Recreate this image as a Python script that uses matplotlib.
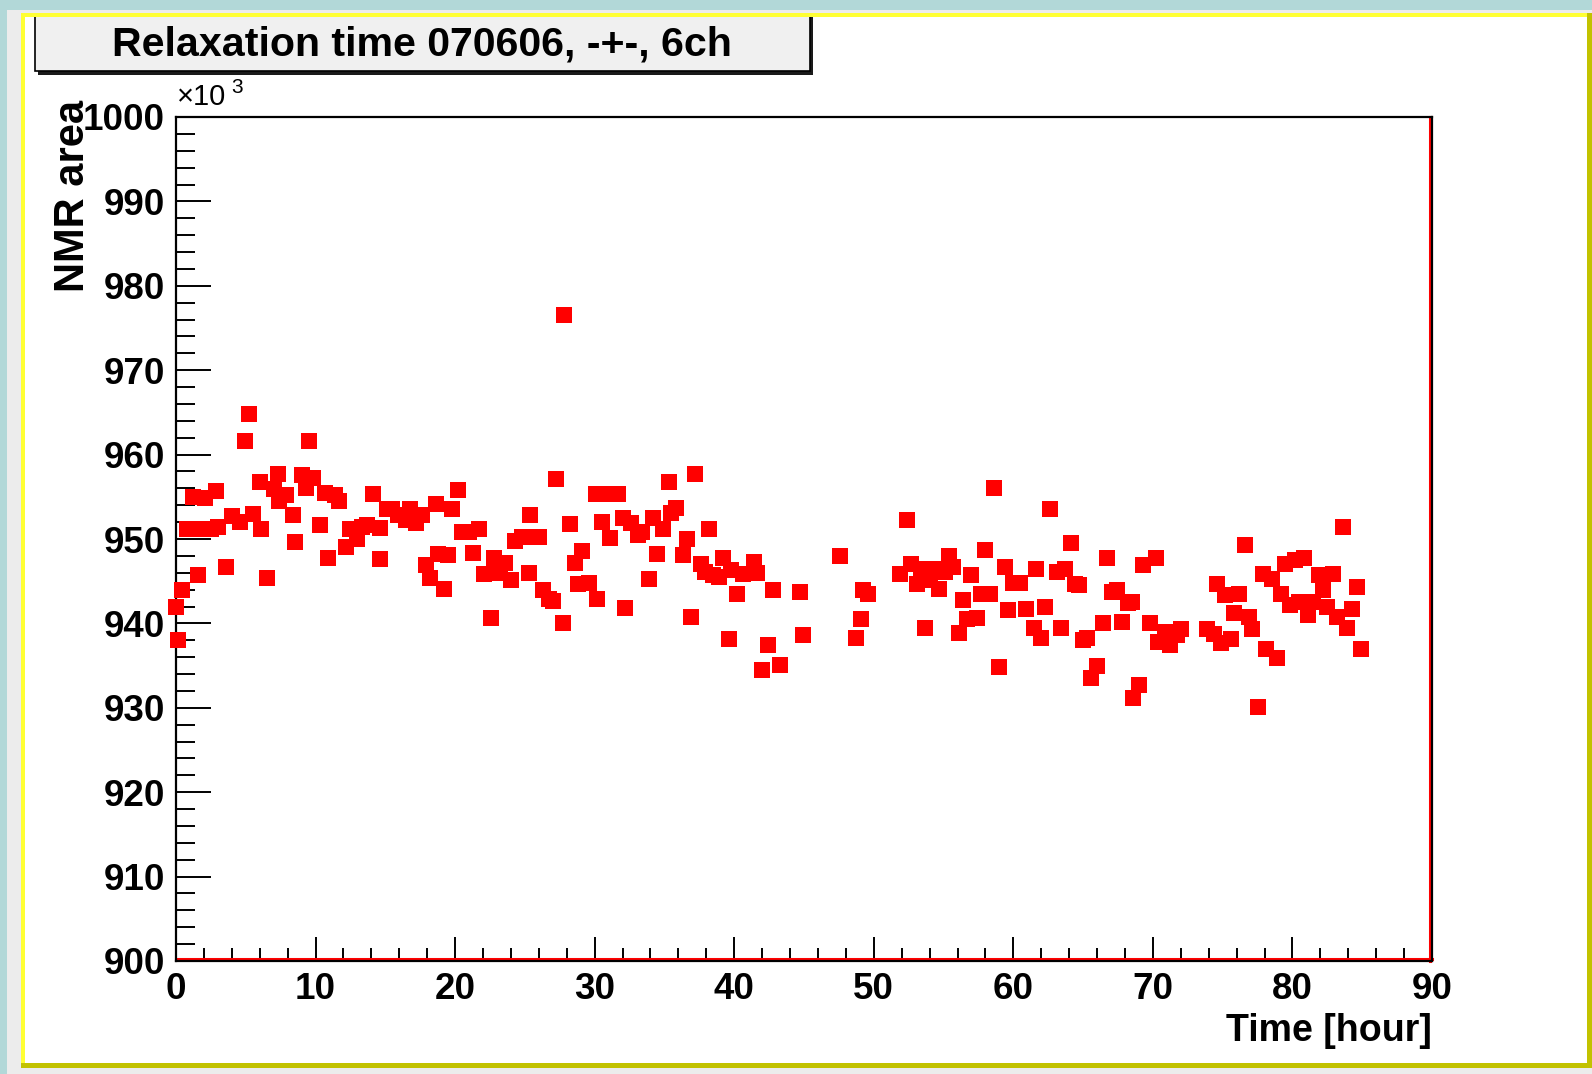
import numpy as np
import matplotlib
matplotlib.use("Agg")
import matplotlib.pyplot as plt
from matplotlib.patches import Rectangle
from matplotlib.lines import Line2D
from matplotlib.ticker import MultipleLocator
import matplotlib.transforms as mtransforms

# values (NMR area in units of 10^3)
time_hour = [0.0, 0.15, 0.4, 0.8, 1.2, 1.6, 1.7, 2.1, 2.5, 2.9, 3.0, 3.6, 4.0, 4.6, 4.95,
             5.2, 5.5, 6.0, 6.1, 6.5, 7.0, 7.3, 7.4, 7.9, 8.4, 8.5, 9.0, 9.3, 9.5, 9.8,
             10.3, 10.7, 10.9, 11.4, 11.7, 12.2, 12.5, 13.0, 13.3, 13.7, 14.1, 14.6, 14.6,
             15.1, 15.5, 15.9, 16.5, 16.8, 17.2, 17.6, 17.9, 18.2, 18.6, 18.8, 19.2, 19.5,
             19.8, 20.2, 20.5, 21.0, 21.3, 21.7, 22.1, 22.6, 22.8, 23.2, 23.6, 24.0, 24.3,
             24.8, 25.3, 25.4, 25.6, 26.0, 26.3, 26.7, 27.0, 27.2, 27.7, 27.8, 28.2, 28.6,
             28.8, 29.1, 29.6, 30.1, 30.2, 30.5, 30.9, 31.1, 31.7, 32.0, 32.2, 32.6, 33.1,
             33.4, 33.9, 34.2, 34.5, 34.9, 35.3, 35.5, 35.8, 36.3, 36.6, 36.9, 37.2, 37.6,
             37.9, 38.2, 38.5, 38.9, 39.2, 39.6, 39.8, 40.2, 40.6, 41.4, 41.6, 42.0, 42.4,
             42.8, 43.3, 44.7, 44.9, 47.6, 48.7, 49.1, 49.2, 49.6, 51.9, 52.4, 52.7, 53.1,
             53.4, 53.7, 54.0, 54.3, 54.7, 55.1, 55.4, 55.7, 56.1, 56.4, 56.7, 57.0, 57.4,
             57.7, 58.0, 58.3, 58.6, 59.0, 59.4, 59.6, 60.0, 60.5, 60.9, 61.5, 61.6, 62.0,
             62.3, 62.6, 63.1, 63.4, 63.7, 64.1, 64.4, 64.7, 65.0, 65.3, 65.6, 66.0, 66.4,
             66.7, 67.1, 67.4, 67.8, 68.2, 68.5, 68.6, 69.0, 69.3, 69.8, 70.2, 70.4, 70.9,
             71.2, 71.7, 72.0, 73.9, 74.4, 74.6, 74.9, 75.2, 75.6, 75.8, 76.2, 76.6, 76.9,
             77.1, 77.5, 77.9, 78.1, 78.5, 78.9, 79.2, 79.5, 79.8, 80.2, 80.5, 80.8, 81.1,
             81.5, 81.9, 82.2, 82.5, 82.9, 83.2, 83.6, 83.9, 84.3, 84.6, 84.9]
nmr_area_k = [941.9, 938.0, 944.0, 951.2, 955.0, 945.7, 951.2, 954.8, 951.2, 955.7, 951.4,
              946.7, 952.7, 952.0, 961.6, 964.8, 953.0, 956.7, 951.2, 945.4, 955.9, 957.7,
              954.5, 955.2, 952.8, 949.6, 957.6, 956.1, 961.6, 957.2, 951.7, 955.5, 947.7,
              955.2, 954.5, 949.0, 951.2, 950.0, 951.4, 951.7, 955.3, 947.6, 951.3, 953.6,
              953.6, 952.8, 952.2, 953.6, 951.9, 952.9, 946.9, 945.4, 954.2, 948.2, 944.1,
              948.1, 953.6, 955.8, 950.8, 950.8, 948.3, 951.2, 945.9, 940.6, 947.7, 946.0,
              947.1, 945.1, 949.8, 950.2, 946.0, 952.9, 950.2, 950.2, 943.9, 942.9, 942.7,
              957.1, 940.0, 976.5, 951.8, 947.2, 944.7, 948.6, 944.8, 955.3, 942.9, 952.0,
              955.3, 950.1, 955.3, 952.5, 941.8, 951.9, 950.5, 950.8, 945.3, 952.5, 948.2,
              951.2, 956.7, 953.1, 953.7, 948.1, 950.0, 940.8, 957.7, 947.0, 946.1, 951.2,
              945.7, 945.5, 947.7, 938.2, 946.3, 943.5, 945.9, 947.3, 946.0, 934.5, 937.5,
              943.9, 935.1, 943.7, 938.6, 948.0, 938.3, 940.5, 943.9, 943.5, 945.9, 952.2,
              947.0, 944.7, 946.5, 939.5, 945.2, 946.5, 944.1, 946.1, 948.0, 946.7, 938.9,
              942.8, 940.5, 945.7, 940.6, 943.5, 948.7, 943.5, 956.0, 934.8, 946.7, 941.6,
              944.8, 944.8, 941.7, 939.5, 946.5, 938.3, 942.0, 953.5, 946.1, 939.5, 946.4,
              949.5, 944.7, 944.5, 938.0, 938.3, 933.5, 934.9, 940.1, 947.7, 943.7, 943.9,
              940.2, 942.4, 942.5, 931.2, 932.7, 946.9, 940.0, 947.7, 937.8, 939.0, 937.5,
              938.6, 939.3, 939.3, 938.7, 944.7, 937.7, 943.4, 938.1, 941.2, 943.5, 949.3,
              940.8, 939.3, 930.1, 945.9, 937.0, 945.3, 935.9, 943.5, 947.0, 942.2, 947.5,
              942.5, 947.7, 941.0, 942.5, 945.7, 943.9, 942.0, 945.8, 940.8, 951.4, 939.4,
              941.7, 944.3, 937.0]

title = "Relaxation time 070606, -+-, 6ch"
x_label = "Time [hour]"
y_label = "NMR area"

W, H = 1592, 1074
FONT = "Liberation Sans"

def fx(px):
    return px / W

def fy(py):
    return 1 - py / H

fig = plt.figure(figsize=(W / 100, H / 100), dpi=100)
fig.patch.set_facecolor("#b2d8d8")

def rect(x0, y0, x1, y1, color, z=0, **kw):
    r = Rectangle((fx(x0), fy(y1)), fx(x1) - fx(x0), fy(y0) - fy(y1),
                  transform=fig.transFigure, facecolor=color, edgecolor="none",
                  zorder=z, **kw)
    fig.add_artist(r)
    return r

# canvas frame (grey margin, bevelled yellow border, white pad)
rect(7, 10, W, H, "#ececec", z=-10)
rect(21, 13, W, 1068, "#c2c200", z=-9)
rect(21, 13, 1587, 1063, "#ffff33", z=-8)
rect(25, 17, 1587, 1063, "white", z=-7)

ax = fig.add_axes([fx(176), fy(961), fx(1432) - fx(176), fy(117) - fy(961)])
ax.plot(time_hour, nmr_area_k, linestyle="none", marker="s", markersize=11.5,
        markeredgewidth=0, color="#ff0000", clip_on=False, zorder=3)

ax.set_xlim(0, 90)
ax.set_ylim(900, 1000)
ax.xaxis.set_major_locator(MultipleLocator(10))
ax.xaxis.set_minor_locator(MultipleLocator(2))
ax.yaxis.set_major_locator(MultipleLocator(10))
ax.yaxis.set_minor_locator(MultipleLocator(2))

for s in ax.spines.values():
    s.set_linewidth(1.6)
    s.set_color("black")

ax.tick_params(axis="both", which="both", direction="in", top=False, right=False,
               width=1.4, colors="black")
ax.tick_params(axis="y", which="major", length=25, pad=8)
ax.tick_params(axis="y", which="minor", length=14)
ax.tick_params(axis="x", which="major", length=17, pad=8)
ax.tick_params(axis="x", which="minor", length=9.5)
for lab in ax.get_xticklabels() + ax.get_yticklabels():
    lab.set_fontfamily(FONT)
    lab.set_fontweight("bold")
    lab.set_fontsize(26.5)

# red line of the frame just inside the bottom and right axis lines
up = ax.transAxes + mtransforms.ScaledTranslation(0, 2.2 / 100, fig.dpi_scale_trans)
left = ax.transAxes + mtransforms.ScaledTranslation(-2.2 / 100, 0, fig.dpi_scale_trans)
ax.add_line(Line2D([0, 1], [0, 0], transform=up, color="#ff0000", lw=2.2, clip_on=False))
ax.add_line(Line2D([1, 1], [0, 1], transform=left, color="#ff0000", lw=2.2, clip_on=False))

# axis titles, ROOT style (placed at the far ends of the axes)
fig.text(fx(1432), fy(1031), x_label, ha="right", va="center", family=FONT,
         fontweight="bold", fontsize=27)
fig.text(fx(73), fy(100), y_label, ha="center", va="top", rotation=90, family=FONT,
         fontweight="bold", fontsize=30)

# exponent label
fig.text(fx(177), fy(111), "\u00d710", ha="left", va="bottom", family=FONT, fontsize=21)
fig.text(fx(231), fy(97), "3", ha="left", va="bottom", family=FONT, fontsize=15)

# title box with shadow; its top edge hides under the yellow border
rect(38, 15, 813, 75, "#1a1a1a", z=1)
box = Rectangle((fx(35), fy(71)), fx(810) - fx(35), fy(12) - fy(71),
                transform=fig.transFigure, facecolor="#f0f0f0", edgecolor="black",
                linewidth=1.2, zorder=2)
fig.add_artist(box)
rect(21, 13, 830, 17, "#ffff33", z=4)
rect(0, 0, 830, 10, "#b2d8d8", z=4)
rect(7, 10, 830, 13, "#ececec", z=4)
fig.text(fx(422), fy(44), title, ha="center", va="center", family=FONT,
         fontweight="bold", fontsize=29.6, zorder=5)

fig.savefig("out.png", dpi=100, facecolor=fig.get_facecolor())
